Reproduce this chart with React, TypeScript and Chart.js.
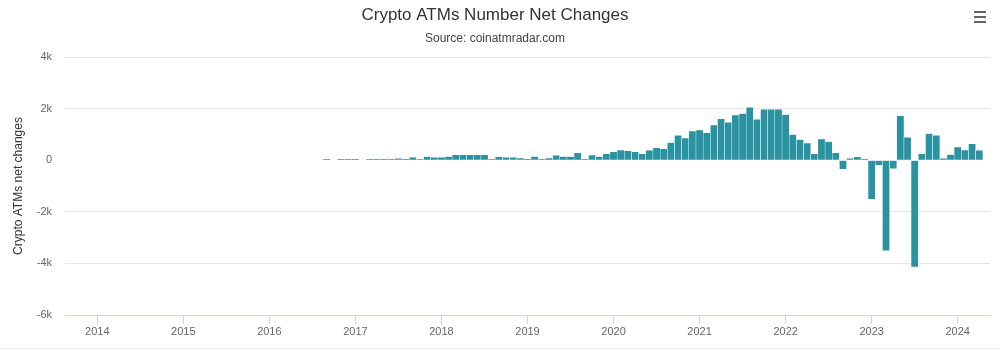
import { useEffect, useRef } from 'react';
import { Chart, registerables } from 'chart.js';

Chart.register(...registerables);

const titleText = 'Crypto ATMs Number Net Changes';
const subtitleText = 'Source: coinatmradar.com';
const yAxisTitle = 'Crypto ATMs net changes';

// Monthly series starts September 2013
const startYear = 2013;
const startMonth = 9;

const values2013 = [0, 0, 0, 0];
const values2014 = [0, 0, 0, 0, 0, 0, 0, 0, 0, 0, 0, 0];
const values2015 = [0, 0, 0, 0, 0, 0, 0, 0, 0, 0, 0, 0];
const values2016 = [0, 0, 0, 0, 0, 0, 0, 0, 40, 0, 40, 40];
const values2017 = [40, 0, 40, 40, 40, 40, 75, 40, 110, 40, 140, 110];
const values2018 = [110, 145, 210, 210, 210, 210, 210, 40, 135, 110, 110, 85];
const values2019 = [45, 145, 40, 85, 185, 145, 145, 285, 50, 200, 140, 245];
const values2020 = [320, 390, 360, 320, 245, 380, 475, 445, 680, 960, 855, 1125];
const values2021 = [1165, 1060, 1365, 1605, 1465, 1745, 1810, 2045, 1585, 1975, 1975, 1975];
const values2022 = [1765, 990, 795, 665, 250, 820, 720, 290, -345, 70, 130, 45];
const values2023 = [-1515, -190, -3505, -330, 1715, 885, -4135, 250, 1030, 965, 70, 215];
const values2024 = [510, 395, 630, 380, 0];

const netChanges = [
  ...values2013, ...values2014, ...values2015, ...values2016, ...values2017, ...values2018,
  ...values2019, ...values2020, ...values2021, ...values2022, ...values2023, ...values2024,
];

const yearTicks = [2014, 2015, 2016, 2017, 2018, 2019, 2020, 2021, 2022, 2023, 2024];
const yTicks = [-6000, -4000, -2000, 0, 2000, 4000];

const FONT = "'Liberation Sans', Arial, sans-serif";

export default function App() {
  const ref = useRef<HTMLCanvasElement | null>(null);

  useEffect(() => {
    if (!ref.current) return;
    const monthX = (i: number) => startYear + (startMonth - 1 + i) / 12;
    const points = netChanges.map((v, i) => ({ x: monthX(i), y: v }));
    const half = 1 / 24;
    const xMin = monthX(0) - half;
    const xMax = monthX(netChanges.length - 1) + half;

    Chart.defaults.font.family = FONT;

    const chart = new Chart(ref.current, {
      type: 'bar',
      data: {
        datasets: [
          {
            data: points as any,
            backgroundColor: '#2a92a1',
            borderColor: '#ffffff',
            borderWidth: { left: 0.5, right: 0.5, top: 0.5, bottom: 0.5 } as any,
            barPercentage: 1,
            categoryPercentage: 1,
          },
        ],
      },
      options: {
        animation: false,
        responsive: true,
        maintainAspectRatio: false,
        layout: { padding: { left: 0, right: 10, top: 0, bottom: 0 } },
        plugins: {
          legend: { display: false },
          tooltip: { enabled: false },
          title: {
            display: true,
            text: titleText,
            color: '#333333',
            font: { family: FONT, size: 17, weight: 'normal' },
            padding: { top: 5, bottom: 0 },
          },
          subtitle: {
            display: true,
            text: subtitleText,
            color: '#444444',
            font: { family: FONT, size: 12, weight: 'normal' },
            padding: { top: 6, bottom: 11.2 },
          },
        },
        scales: {
          x: {
            type: 'linear',
            min: xMin,
            max: xMax,
            offset: false,
            afterBuildTicks: (s: any) => {
              s.ticks = yearTicks.map((v) => ({ value: v }));
            },
            afterFit: (s: any) => {
              s.height = 35;
            },
            ticks: {
              color: '#666666',
              font: { family: FONT, size: 11 },
              padding: 1,
              maxRotation: 0,
              autoSkip: false,
              callback: (v: any) => String(v),
            },
            grid: {
              offset: false,
              drawOnChartArea: false,
              drawTicks: true,
              tickLength: 9,
              color: '#ccd6eb',
            },
            border: { display: true, color: '#ccd6eb' },
          },
          y: {
            min: -6000,
            max: 4000,
            afterBuildTicks: (s: any) => {
              s.ticks = yTicks.map((v) => ({ value: v }));
            },
            afterFit: (s: any) => {
              s.width = 65;
            },
            ticks: {
              color: '#666666',
              font: { family: FONT, size: 11 },
              padding: 13,
              callback: (v: any) => (v === 0 ? '0' : `${v / 1000}k`),
            },
            grid: {
              color: (ctx: any) => (ctx.tick && ctx.tick.value === 0 ? 'rgba(0,0,0,0)' : '#e6e6e6'),
              drawTicks: false,
              lineWidth: 1,
            },
            border: { display: false },
            title: {
              display: true,
              text: yAxisTitle,
              color: '#333333',
              font: { family: FONT, size: 12 },
              padding: { top: 11.8, bottom: 0 },
            },
          },
        },
      },
    });
    return () => chart.destroy();
  }, []);

  return (
    <div style={{ position: 'absolute', left: 0, top: 0, width: 1000, height: 350, background: '#ffffff' }}>
      <canvas ref={ref} />
      <div style={{ position: 'absolute', left: 974, top: 11, width: 12, height: 2, background: '#666666' }} />
      <div style={{ position: 'absolute', left: 974, top: 16, width: 12, height: 2, background: '#666666' }} />
      <div style={{ position: 'absolute', left: 974, top: 21, width: 12, height: 2, background: '#666666' }} />
      <div style={{ position: 'absolute', left: 0, top: 348, width: 1000, height: 1, background: '#f0f0f0' }} />
    </div>
  );
}
